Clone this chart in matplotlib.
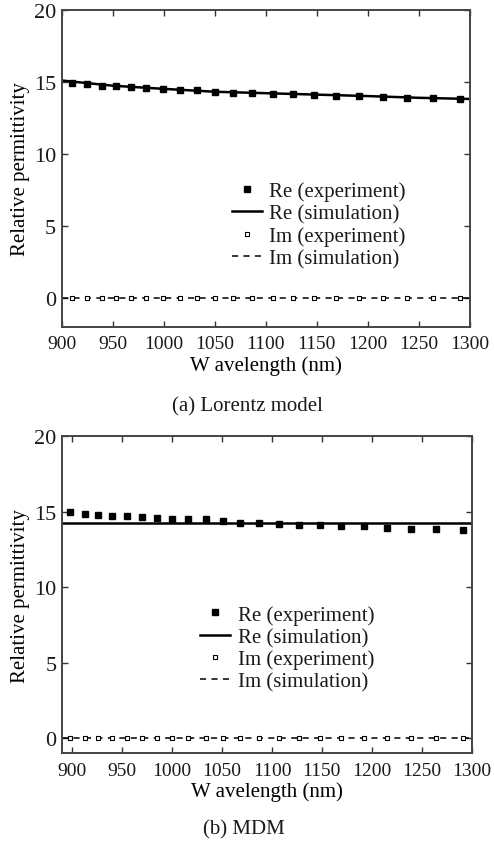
import matplotlib

matplotlib.use("Agg")
import matplotlib.pyplot as plt

# (a) Lorentz model
lam_exp_a = [910, 925, 939, 953, 968, 983, 999, 1016, 1033, 1050, 1068,
             1086, 1107, 1127, 1147, 1169, 1191, 1215, 1238, 1264, 1290]
re_exp_a = [14.91, 14.81, 14.72, 14.68, 14.63, 14.56, 14.49, 14.42, 14.40,
            14.28, 14.24, 14.21, 14.17, 14.12, 14.10, 14.03, 14.01, 13.94,
            13.87, 13.84, 13.82]
im_exp_a = [0.0] * len(lam_exp_a)
lam_sim_a = [900, 950, 1000, 1050, 1100, 1150, 1200, 1250, 1300]
re_sim_a = [15.08, 14.72, 14.50, 14.30, 14.20, 14.10, 14.00, 13.88, 13.80]
im_sim_a = [0.0] * len(lam_sim_a)

# (b) MDM
lam_exp_b = [898, 913, 926, 940, 955, 970, 985, 1000, 1016, 1034, 1051,
             1068, 1087, 1107, 1127, 1148, 1169, 1192, 1215, 1239, 1264, 1291]
re_exp_b = [14.96, 14.87, 14.80, 14.71, 14.71, 14.65, 14.58, 14.54, 14.49,
            14.49, 14.36, 14.27, 14.27, 14.21, 14.10, 14.10, 14.03, 14.03,
            13.94, 13.85, 13.85, 13.81]
im_exp_b = [0.0] * len(lam_exp_b)
lam_sim_b = [890, 1300]
re_sim_b = [14.27, 14.27]
im_sim_b = [0.0, 0.0]

x_ticks = [900, 950, 1000, 1050, 1100, 1150, 1200, 1250, 1300]
y_ticks = [0, 5, 10, 15, 20]
labels = ["Re (experiment)", "Re (simulation)", "Im (experiment)", "Im (simulation)"]

INK = "#1a1a1a"
plt.rcParams["font.family"] = ["Liberation Serif", "DejaVu Serif"]
plt.rcParams["text.color"] = INK


def draw_panel(ax, lam_exp, re_exp, im_exp, lam_sim, re_sim, im_sim, xlim, ylim):
    ax.plot(lam_exp, re_exp, "s", color="black", ms=3.8, label=labels[0], zorder=3)
    ax.plot(lam_sim, re_sim, "-", color="black", lw=1.8, label=labels[1])
    ax.plot(lam_exp, im_exp, "s", color="black", mfc="white", ms=3.0, mew=0.8,
            label=labels[2], zorder=3)
    ax.plot(lam_sim, im_sim, color="black", lw=1.1, linestyle=(0, (4, 3.5)),
            label=labels[3])
    ax.set_xlim(*xlim)
    ax.set_ylim(*ylim)
    ax.set_xticks(x_ticks)
    ax.set_yticks(y_ticks)
    ax.tick_params(direction="in", top=True, right=True, length=4, width=1,
                   color="#333333", labelcolor=INK)
    ax.tick_params(axis="x", labelsize=14, pad=6)
    ax.tick_params(axis="y", labelsize=16, pad=4)
    for sp in ax.spines.values():
        sp.set_linewidth(1.4)
        sp.set_color("#444444")
    ax.set_xlabel("W avelength (nm)", fontsize=15, labelpad=2)
    ax.set_ylabel("Relative permittivity", fontsize=15, labelpad=3)


fig = plt.figure(figsize=(4.94, 8.45), dpi=100)

ax_a = fig.add_axes([0.1249, 0.6121, 0.8265, 0.3754])
draw_panel(ax_a, lam_exp_a, re_exp_a, im_exp_a, lam_sim_a, re_sim_a, im_sim_a,
           (900, 1300), (-2, 20))
ax_a.legend(loc="center left", bbox_to_anchor=(0.4696, 0.7325),
            bbox_transform=fig.transFigure, frameon=False, fontsize=15,
            borderpad=0, borderaxespad=0, labelspacing=0.13,
            handlelength=1.45, handletextpad=0.35)
fig.text(0.5, 1 - 407 / 845, "(a) Lorentz model", ha="center", va="center",
         fontsize=15)

ax_b = fig.add_axes([0.1261, 0.1073, 0.8287, 0.3755])
draw_panel(ax_b, lam_exp_b, re_exp_b, im_exp_b, lam_sim_b, re_sim_b, im_sim_b,
           (890, 1300), (-1, 20))
ax_b.legend(loc="center left", bbox_to_anchor=(0.405, 0.2315),
            bbox_transform=fig.transFigure, frameon=False, fontsize=15,
            borderpad=0, borderaxespad=0, labelspacing=0.13,
            handlelength=1.45, handletextpad=0.35)
fig.text(0.494, 1 - 830 / 845, "(b) MDM", ha="center", va="center", fontsize=15)

fig.savefig("out.png", dpi=100)
